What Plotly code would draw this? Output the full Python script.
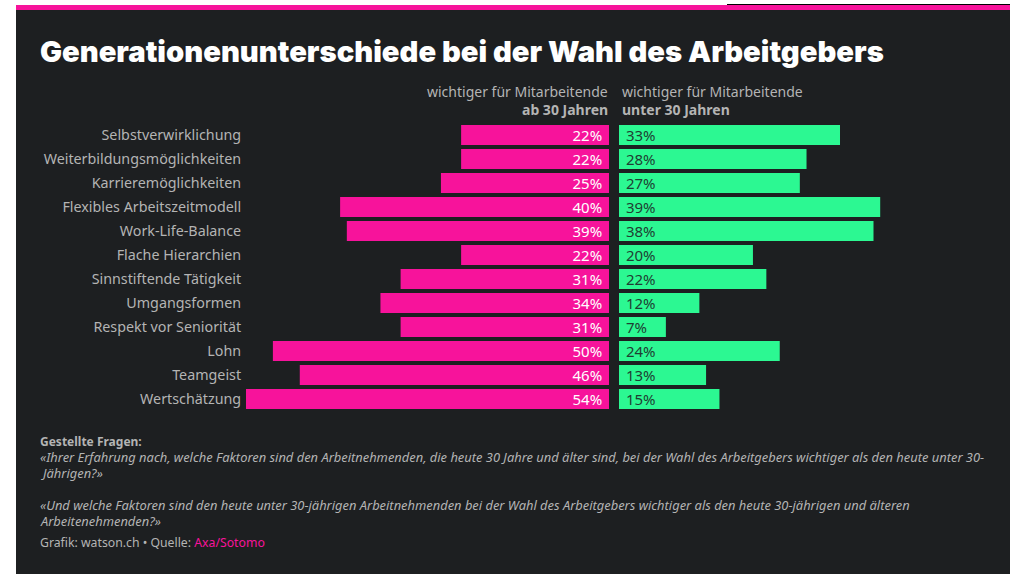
import plotly.graph_objects as go
from plotly.subplots import make_subplots

# Werte
kategorien = ["Selbstverwirklichung", "Weiterbildungsmöglichkeiten", "Karrieremöglichkeiten",
              "Flexibles Arbeitszeitmodell", "Work-Life-Balance", "Flache Hierarchien",
              "Sinnstiftende Tätigkeit", "Umgangsformen", "Respekt vor Seniorität",
              "Lohn", "Teamgeist", "Wertschätzung"]
ab_30 = [22, 22, 25, 40, 39, 22, 31, 34, 31, 50, 46, 54]
unter_30 = [33, 28, 27, 39, 38, 20, 22, 12, 7, 24, 13, 15]

titel = "Generationenunterschiede bei der Wahl des Arbeitgebers"
# Text, y-Position, Schriftgrösse
fussnoten = [
    ("<b>Gestellte Fragen:</b>", 441, 12),
    ("<i>«Ihrer Erfahrung nach, welche Faktoren sind den Arbeitnehmenden, die heute 30 Jahre und älter sind, bei der Wahl des Arbeitgebers wichtiger als den heute unter 30-</i>", 457, 12.9),
    ("<i>Jährigen?»</i>", 473, 12.9),
    ("<i>«Und welche Faktoren sind den heute unter 30-jährigen Arbeitnehmenden bei der Wahl des Arbeitgebers wichtiger als den heute 30-jährigen und älteren</i>", 505, 12.9),
    ("<i>Arbeitenehmenden?»</i>", 521, 12.9),
    ("Grafik: watson.ch • Quelle: <span style='color:#f7139b'>Axa/Sotomo</span>", 542, 12.25),
]

W, H = 1019, 577
PINK = "#f7139b"
GRUEN = "#2cf892"
DUNKEL = "#1d1f21"
GRAU = "#b4b4b4"
SCHRIFT = "Noto Sans"


def px(x):
    return x / W


def py(y):
    return 1 - y / H


fig = make_subplots(rows=1, cols=2, shared_yaxes=False)

# NBSP als Innenabstand im Balken
fig.add_trace(go.Bar(y=kategorien, x=ab_30, orientation="h", marker=dict(color=PINK, line_width=0),
                     text=[f"{v}%\u00a0" for v in ab_30], textposition="inside", insidetextanchor="start",
                     textangle=0, constraintext="none", hoverinfo="skip",
                     insidetextfont=dict(color="white", size=15, family=SCHRIFT)), row=1, col=1)
fig.add_trace(go.Bar(y=kategorien, x=unter_30, orientation="h", marker=dict(color=GRUEN, line_width=0),
                     text=[f"\u00a0{v}%" for v in unter_30], textposition="inside", insidetextanchor="start",
                     textangle=0, constraintext="none", hoverinfo="skip",
                     insidetextfont=dict(color="#1f3f33", size=15, family=SCHRIFT)), row=1, col=2)

# linke Achse läuft rückwärts, rund 6.7 px pro Prozentpunkt
fig.update_xaxes(domain=[px(246), px(609)], range=[54, 0], visible=False, row=1, col=1)
fig.update_xaxes(domain=[px(619), px(982)], range=[0, 54.2], visible=False, row=1, col=2)
fig.update_yaxes(domain=[py(411), py(123)], autorange="reversed", showgrid=False, zeroline=False,
                 showline=False, ticks="outside", ticklen=1, tickcolor="rgba(0,0,0,0)",
                 tickfont=dict(color=GRAU, size=14.3, family=SCHRIFT), row=1, col=1)
fig.update_yaxes(domain=[py(411), py(123)], autorange="reversed", visible=False, row=1, col=2)

fig.add_shape(type="rect", xref="paper", yref="paper", x0=px(16), x1=px(1010), y0=py(574), y1=py(10),
              fillcolor=DUNKEL, line_width=0, layer="below")
fig.add_shape(type="rect", xref="paper", yref="paper", x0=px(16), x1=px(1010), y0=py(10), y1=py(5),
              fillcolor=PINK, line_width=0, layer="below")
fig.add_shape(type="rect", xref="paper", yref="paper", x0=px(727), x1=px(1010), y0=py(5), y1=py(4),
              fillcolor="#000000", line_width=0, layer="below")


def text(s, x, y, size, color, anchor="left", family=SCHRIFT, weight=None):
    fig.add_annotation(text=s, xref="paper", yref="paper", x=px(x), y=py(y), xanchor=anchor, yanchor="middle",
                       showarrow=False, align=anchor,
                       font=dict(size=size, color=color, family=family, weight=weight))


text(titel, 38, 51, 29.2, "white", family="Inter", weight=900)
text("wichtiger für Mitarbeitende", 610, 91, 14, GRAU, anchor="right")
text("<b>ab 30 Jahren</b>", 610, 110, 14, GRAU, anchor="right")
text("wichtiger für Mitarbeitende", 620, 91, 14, GRAU)
text("<b>unter 30 Jahren</b>", 620, 110, 14, GRAU)
for zeile, y, groesse in fussnoten:
    text(zeile, 38, y, groesse, GRAU)

fig.update_layout(width=W, height=H, margin=dict(l=0, r=0, t=0, b=0), paper_bgcolor="white",
                  plot_bgcolor="rgba(0,0,0,0)", showlegend=False, bargap=1 / 6)

fig.write_html("out.html", config=dict(displayModeBar=False), post_script="document.body.style.margin='0';")
